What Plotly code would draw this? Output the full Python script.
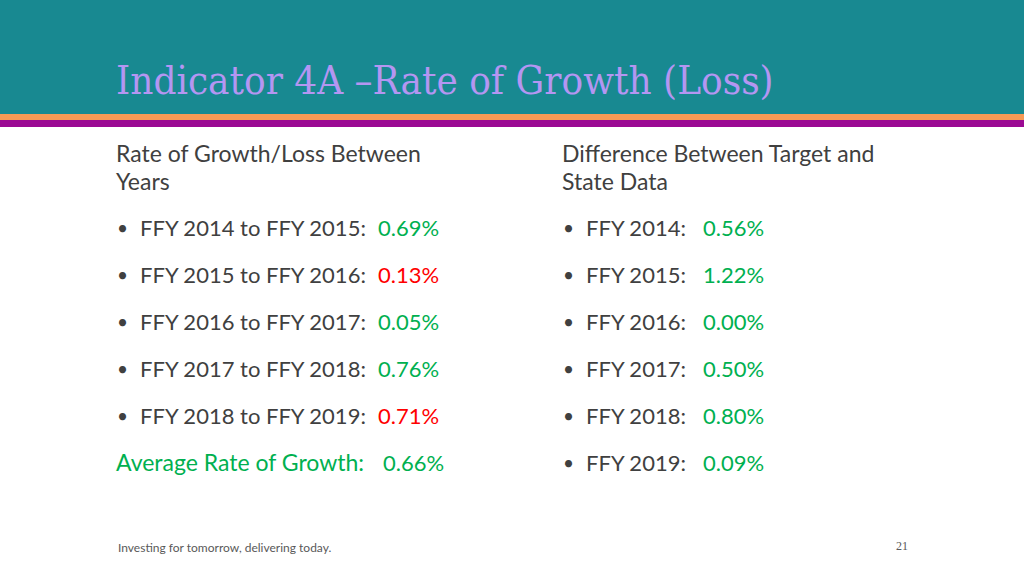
import plotly.graph_objects as go

# ---- data ----
title = "Indicator 4A \u2013Rate of Growth (Loss)"
left_header = ["Rate of Growth/Loss Between", "Years"]
right_header = ["Difference Between Target and", "State Data"]

growth_periods = ["FFY 2014 to FFY 2015:", "FFY 2015 to FFY 2016:", "FFY 2016 to FFY 2017:",
                  "FFY 2017 to FFY 2018:", "FFY 2018 to FFY 2019:"]
growth_values = ["0.69%", "0.13%", "0.05%", "0.76%", "0.71%"]
growth_status = ["good", "bad", "good", "good", "bad"]
average_label = "Average Rate of Growth:"
average_value = "0.66%"

diff_years = ["FFY 2014:", "FFY 2015:", "FFY 2016:", "FFY 2017:", "FFY 2018:", "FFY 2019:"]
diff_values = ["0.56%", "1.22%", "0.00%", "0.50%", "0.80%", "0.09%"]

footer = "Investing for tomorrow, delivering today."
page_number = "21"

# ---- styles ----
W, H = 1024, 576
TEAL = "#188991"
ORANGE = "#F79A55"
PURPLE = "#9B0A93"
TITLE_C = "#B496F2"
TEXT_C = "#404040"
GREEN = "#00B050"
RED = "#FF0000"
status_color = {"good": GREEN, "bad": RED}
BODY_FONT = "Lato, 'Open Sans', sans-serif"
BODY_SIZE = 22
row_y = [227, 274, 321, 368, 415, 462]

fig = go.Figure()
shapes = [
    dict(type="rect", x0=0, x1=W, y0=0, y1=114, fillcolor=TEAL, line_width=0, layer="below"),
    dict(type="rect", x0=0, x1=W, y0=114, y1=120, fillcolor=ORANGE, line_width=0, layer="below"),
    dict(type="rect", x0=0, x1=W, y0=120, y1=127, fillcolor=PURPLE, line_width=0, layer="below"),
]
ann = []

def text(x, y, s, color=TEXT_C, size=BODY_SIZE, family=BODY_FONT, anchor="left"):
    ann.append(dict(x=x, y=y, xref="x", yref="y", text=s, showarrow=False,
                    xanchor=anchor, yanchor="middle",
                    font=dict(family=family, size=size, color=color)))

text(114, 80, title, color=TITLE_C, size=40, family="'DejaVu Serif Condensed', 'Liberation Serif', serif")

for i, s in enumerate(left_header):
    text(114, 153 + 28 * i, s, size=23)
for i, s in enumerate(right_header):
    text(560, 153 + 28 * i, s, size=23)

for i, (p, v, st) in enumerate(zip(growth_periods, growth_values, growth_status)):
    text(115, row_y[i], "\u2022", size=19)
    text(138, row_y[i], p)
    text(376, row_y[i], v, color=status_color[st])
text(114, row_y[5], average_label, color=GREEN, size=23)
text(381, row_y[5], average_value, color=GREEN)

for i, (yl, v) in enumerate(zip(diff_years, diff_values)):
    text(561, row_y[i], "\u2022", size=19)
    text(584, row_y[i], yl)
    text(701, row_y[i], v, color=GREEN)

text(116, 547, footer, color="#595959", size=12, family="Lato, 'Open Sans', sans-serif")
text(902, 546, page_number, color="#595959", size=12, family="'Liberation Serif', serif", anchor="center")

fig.update_layout(
    width=W, height=H, margin=dict(l=0, r=0, t=0, b=0),
    paper_bgcolor="white", plot_bgcolor="white",
    xaxis=dict(range=[0, W], visible=False, fixedrange=True),
    yaxis=dict(range=[H, 0], visible=False, fixedrange=True),
    shapes=shapes, annotations=ann, showlegend=False,
)
fig.write_html("out.html", config={"displayModeBar": False},
               post_script="document.body.style.margin='0';document.body.style.overflow='hidden';")
